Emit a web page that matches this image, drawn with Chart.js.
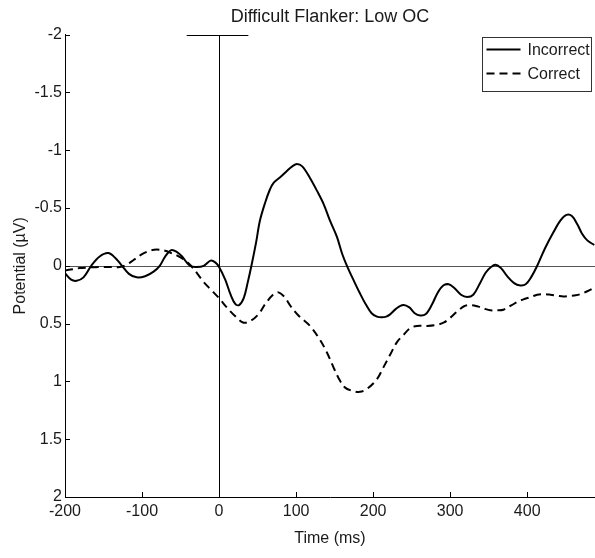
<!DOCTYPE html>
<html>
<head>
<meta charset="utf-8">
<script src="https://cdn.jsdelivr.net/npm/chart.js@4.4.0/dist/chart.umd.min.js"></script>
<style>
  html, body { margin: 0; padding: 0; background: #fff; }
  #wrap { width: 595px; height: 558px; }
</style>
</head>
<body>
<div id="wrap"><canvas id="erpChart" width="595" height="558"></canvas></div>
<script>
// Data (time in ms, potential in µV)
const incorrectTimes = [-200, -192, -185, -176, -166, -155, -144, -135, -126, -117, -107, -96, -85, -77, -70, -62, -55, -48, -38, -29, -20, -11, -5, 0, 8, 15, 21, 26, 32, 37, 42, 48, 53, 60, 66, 71, 80, 88, 95, 101, 108, 118, 127, 136, 144, 153, 160, 166, 175, 183, 191, 198, 205, 211, 217, 222, 230, 239, 247, 254, 261, 268, 276, 284, 291, 298, 305, 314, 322, 330, 338, 346, 353, 359, 366, 374, 383, 391, 398, 405, 413, 423, 434, 443, 451, 458, 465, 471, 478, 487];
const incorrectValues = [0.065, 0.12, 0.13, 0.10, 0.0, -0.08, -0.11, -0.07, 0.0, 0.07, 0.10, 0.09, 0.05, 0.0, -0.08, -0.135, -0.12, -0.08, 0.0, 0.01, 0.0, -0.045, -0.03, 0.01, 0.12, 0.25, 0.33, 0.34, 0.28, 0.15, 0.0, -0.2, -0.39, -0.55, -0.66, -0.72, -0.77, -0.82, -0.86, -0.88, -0.86, -0.76, -0.65, -0.53, -0.39, -0.25, -0.10, 0.0, 0.13, 0.24, 0.34, 0.41, 0.44, 0.445, 0.44, 0.42, 0.37, 0.34, 0.36, 0.41, 0.43, 0.42, 0.34, 0.23, 0.17, 0.16, 0.19, 0.25, 0.27, 0.25, 0.16, 0.06, 0.01, -0.01, 0.02, 0.09, 0.15, 0.17, 0.16, 0.10, 0.0, -0.15, -0.29, -0.39, -0.44, -0.43, -0.36, -0.28, -0.22, -0.18];

const correctTimes = [-200, -190, -181, -170, -155, -140, -129, -120, -111, -100, -90, -81, -70, -62, -55, -45, -35, -28, -20, -10, 0, 10, 20, 31, 40, 51, 60, 70, 77, 85, 93, 103, 118, 131, 140, 148, 155, 163, 172, 183, 193, 205, 214, 222, 231, 239, 248, 257, 270, 283, 292, 300, 310, 318, 326, 335, 344, 352, 362, 369, 380, 388, 395, 405, 413, 421, 430, 440, 447, 456, 463, 469, 478, 487];
const correctValues = [0.04, 0.03, 0.02, 0.015, 0.01, 0.01, 0.01, -0.01, -0.05, -0.10, -0.13, -0.14, -0.13, -0.11, -0.09, -0.05, 0.01, 0.07, 0.14, 0.21, 0.28, 0.36, 0.43, 0.49, 0.48, 0.42, 0.33, 0.25, 0.23, 0.27, 0.35, 0.43, 0.52, 0.64, 0.75, 0.87, 0.97, 1.05, 1.08, 1.09, 1.06, 0.98, 0.87, 0.77, 0.66, 0.60, 0.54, 0.52, 0.52, 0.51, 0.49, 0.45, 0.39, 0.35, 0.34, 0.35, 0.37, 0.385, 0.385, 0.38, 0.34, 0.31, 0.29, 0.27, 0.25, 0.245, 0.25, 0.26, 0.265, 0.26, 0.255, 0.245, 0.22, 0.19];

const seriesLabels = ['Incorrect', 'Correct'];
const xTickValues = [-200, -100, 0, 100, 200, 300, 400];
const yTickValues = [-2, -1.5, -1, -0.5, 0, 0.5, 1, 1.5, 2];
const xRange = [-200, 488];
const yRange = [-2, 2];
const onsetTime = 0;
const onsetBar = [-42, 38];   // short bar on top of the onset line

const FONT = "'Liberation Sans', Arial, Helvetica, sans-serif";
const TEXT = '#1a1a1a';

const toPoints = (xs, ys) => xs.map((t, i) => ({ x: t, y: ys[i] }));

function strokeLine(ctx, x1, y1, x2, y2) {
    ctx.beginPath();
    ctx.moveTo(x1, y1);
    ctx.lineTo(x2, y2);
    ctx.stroke();
}

// zero line, onset line and inward tick marks, plus the boxed legend
const erpDecor = {
    id: 'erpDecor',
    beforeDatasetsDraw(chart) {
        const { ctx, chartArea, scales: { x, y } } = chart;
        ctx.save();
        ctx.lineWidth = 1;
        ctx.strokeStyle = '#555';
        const y0 = Math.round(y.getPixelForValue(0)) + 0.5;
        strokeLine(ctx, chartArea.left, y0, chartArea.right, y0);

        ctx.strokeStyle = '#000';
        const x0 = Math.round(x.getPixelForValue(onsetTime)) + 0.5;
        const yTop = Math.round(y.getPixelForValue(yRange[0])) + 0.5;
        strokeLine(ctx, x0, yTop, x0, y.getPixelForValue(yRange[1]));
        strokeLine(ctx, x.getPixelForValue(onsetBar[0]), yTop, x.getPixelForValue(onsetBar[1]), yTop);
        ctx.restore();
    },
    afterDraw(chart) {
        const { ctx, chartArea, scales: { x, y } } = chart;
        ctx.save();
        ctx.lineWidth = 1;
        ctx.strokeStyle = '#000';
        // inward ticks
        y.ticks.forEach(t => {
            const py = Math.round(y.getPixelForValue(t.value)) + 0.5;
            strokeLine(ctx, chartArea.left, py, chartArea.left + 5, py);
        });
        x.ticks.forEach(t => {
            const px = Math.round(x.getPixelForValue(t.value)) + 0.5;
            strokeLine(ctx, px, chartArea.bottom, px, chartArea.bottom - 5);
        });

        // legend box
        const boxW = 109, boxH = 54;
        const bx = Math.round(chartArea.right - boxW - 4) + 0.5;
        const by = Math.round(chartArea.top + 2) + 0.5;
        ctx.fillStyle = '#fff';
        ctx.fillRect(bx, by, boxW, boxH);
        ctx.strokeStyle = '#333';
        ctx.strokeRect(bx, by, boxW, boxH);

        ctx.font = '16px ' + FONT;
        ctx.textBaseline = 'middle';
        ctx.fillStyle = TEXT;
        chart.data.datasets.forEach((ds, i) => {
            const ly = by + 12 + i * 24;
            ctx.strokeStyle = ds.borderColor;
            ctx.lineWidth = ds.borderWidth;
            ctx.setLineDash(ds.borderDash || []);
            strokeLine(ctx, bx + 4, ly, bx + 38, ly);
            ctx.setLineDash([]);
            ctx.fillText(ds.label, bx + 45, ly + 1);
        });
        ctx.restore();
    }
};

const ctx = document.getElementById('erpChart');
new Chart(ctx, {
    type: 'line',
    data: {
        datasets: [{
            label: seriesLabels[0],
            data: toPoints(incorrectTimes, incorrectValues),
            borderColor: '#000',
            borderWidth: 2,
            pointRadius: 0,
            tension: 0.35,
            fill: false
        }, {
            label: seriesLabels[1],
            data: toPoints(correctTimes, correctValues),
            borderColor: '#000',
            borderWidth: 2,
            borderDash: [8, 5],
            pointRadius: 0,
            tension: 0.35,
            fill: false
        }]
    },
    options: {
        responsive: false,
        animation: false,
        layout: { padding: { left: 0, right: 0, top: 0, bottom: 0 } },
        plugins: {
            legend: { display: false },
            tooltip: { enabled: false },
            title: {
                display: true,
                text: 'Difficult Flanker: Low OC',
                fullSize: false,
                color: TEXT,
                font: { family: FONT, size: 18, weight: 'normal' },
                padding: { top: 6, bottom: 7 }
            }
        },
        scales: {
            x: {
                type: 'linear',
                min: xRange[0],
                max: xRange[1],
                afterBuildTicks: (scale) => { scale.ticks = xTickValues.map(v => ({ value: v })); },
                afterFit: (scale) => { scale.height = 61; },
                grid: { display: false, drawTicks: false },
                border: { display: true, color: '#000', width: 1 },
                ticks: { color: TEXT, padding: 5, maxRotation: 0, font: { family: FONT, size: 16 } },
                title: {
                    display: true,
                    text: 'Time (ms)',
                    color: TEXT,
                    font: { family: FONT, size: 16 },
                    padding: { top: 6, bottom: 10 }
                }
            },
            y: {
                type: 'linear',
                reverse: true,
                min: yRange[0],
                max: yRange[1],
                afterBuildTicks: (scale) => { scale.ticks = yTickValues.map(v => ({ value: v })); },
                afterFit: (scale) => { scale.width = 65; },
                grid: { display: false, drawTicks: false },
                border: { display: true, color: '#000', width: 1 },
                ticks: {
                    color: TEXT,
                    padding: 3,
                    font: { family: FONT, size: 16 },
                    callback: (v) => String(v)
                },
                title: {
                    display: true,
                    text: 'Potential (µV)',
                    color: TEXT,
                    font: { family: FONT, size: 16 },
                    padding: { top: 11, bottom: 4 }
                }
            }
        }
    },
    plugins: [erpDecor]
});
</script>
</body>
</html>
